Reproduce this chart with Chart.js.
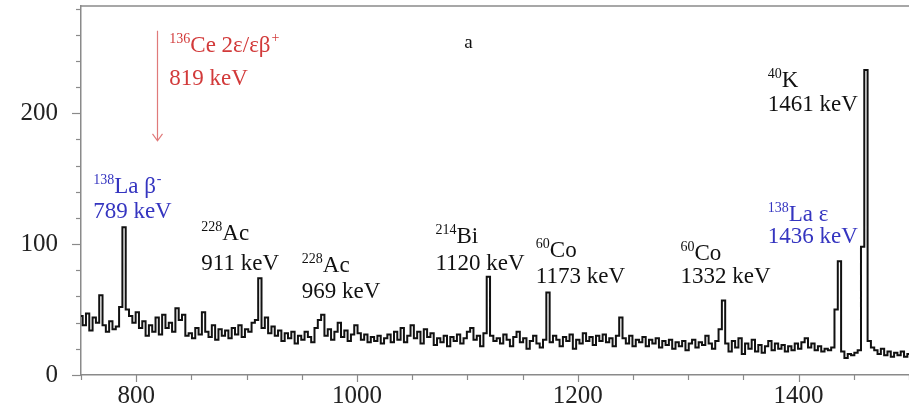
<!DOCTYPE html>
<html>
<head>
<meta charset="utf-8">
<script src="https://cdn.jsdelivr.net/npm/chart.js@4.4.0/dist/chart.umd.min.js"></script>
<style>
  html, body { margin: 0; padding: 0; background: #fff; }
  #wrap { width: 909px; height: 413px; }
</style>
</head>
<body>
<div id="wrap"><canvas id="myChart"></canvas></div>
<script>
// spectrum channels: 3 keV wide, starting at 750 keV
const binStart = 750;
const binWidth = 3;
const counts = [
  45, 38, 47, 34, 44, 40, 61, 38, 33, 41,   // 750
  35, 37, 52, 113, 50, 45, 40, 48, 36, 41,  // 780
  30, 38, 33, 44, 31, 46, 36, 40, 33, 51,   // 810
  42, 46, 30, 32, 28, 36, 31, 48, 33, 29,   // 840
  38, 27, 35, 30, 34, 28, 36, 31, 38, 29,   // 870
  35, 33, 40, 42, 74, 36, 44, 32, 37, 30,   // 900
  34, 26, 32, 28, 33, 24, 30, 27, 33, 29,   // 930
  25, 36, 42, 46, 30, 35, 27, 33, 40, 29,   // 960
  34, 26, 31, 38, 32, 27, 31, 25, 29, 26,   // 990
  30, 24, 28, 31, 25, 33, 27, 36, 25, 30,   // 1020
  38, 28, 33, 24, 35, 29, 32, 23, 28, 25,   // 1050
  30, 22, 29, 26, 31, 24, 28, 33, 36, 27,   // 1080
  30, 22, 32, 75, 30, 26, 28, 24, 31, 27,   // 1110
  22, 29, 33, 25, 28, 20, 26, 30, 24, 21,   // 1140
  27, 63, 25, 30, 27, 22, 29, 26, 31, 20,   // 1170
  27, 24, 32, 26, 29, 23, 30, 26, 31, 25,   // 1200
  28, 22, 30, 44, 28, 24, 30, 22, 27, 25,   // 1230
  29, 22, 27, 24, 28, 21, 26, 23, 27, 20,   // 1260
  25, 22, 26, 19, 24, 27, 21, 25, 23, 30,   // 1290
  24, 20, 26, 35, 57, 24, 18, 26, 21, 28,   // 1320
  16, 24, 20, 27, 18, 23, 17, 22, 26, 19,   // 1350
  24, 20, 23, 18, 22, 19, 24, 20, 25, 28,   // 1380
  21, 24, 19, 22, 18, 20, 19, 21, 50, 87,   // 1410
  18, 13, 16, 15, 17, 19, 98, 233, 26, 21,  // 1440
  19, 16, 20, 15, 18, 14, 17, 15, 18, 14,   // 1470
  16                                        // 1500
];
const xTickLabels = [800, 1000, 1200, 1400];
const yTickLabels = [0, 100, 200];

// peak annotations: keV / counts where each text line sits
const peakLabels = [
  { x: 761, y: 139, y2: 120, pre: '138', main: 'La β', post: '-', line2: '789 keV', color: '#3535c0' },
  { x: 859, y: 103, y2: 80, pre: '228', main: 'Ac', post: '', line2: '911 keV', color: '#111' },
  { x: 950, y: 79, y2: 59, pre: '228', main: 'Ac', post: '', line2: '969 keV', color: '#111' },
  { x: 1071, y: 101, y2: 80, pre: '214', main: 'Bi', post: '', line2: '1120 keV', color: '#111' },
  { x: 1162, y: 90, y2: 70, pre: '60', main: 'Co', post: '', line2: '1173 keV', color: '#111' },
  { x: 1293, y: 88, y2: 70, pre: '60', main: 'Co', post: '', line2: '1332 keV', color: '#111' },
  { x: 1372, y: 220, y2: 202, pre: '40', main: 'K', post: '', line2: '1461 keV', color: '#111' },
  { x: 1372, y: 118, y2: 101, pre: '138', main: 'La ε', post: '', line2: '1436 keV', color: '#3535c0' },
  { x: 830, y: 247, y2: 222, pre: '136', main: 'Ce 2ε/εβ', post: '+', line2: '819 keV', color: '#d23a3a' }
];
const arrow = { x: 819, from: 263, to: 179 };

const spectrum = counts.map((c, i) => ({ x: binStart + i * binWidth, y: c }));

const axisGray = '#8a8a8a';
const serif = '"Liberation Serif", "DejaVu Serif", serif';

const decorPlugin = {
  id: 'decor',
  afterDraw(chart) {
    const { ctx, chartArea: a, scales: { x, y } } = chart;
    ctx.save();
    // frame top + tick marks
    ctx.strokeStyle = axisGray;
    ctx.lineWidth = 1.5;
    ctx.beginPath();
    ctx.moveTo(a.left, a.top);
    ctx.lineTo(a.right, a.top);
    ctx.stroke();
    ctx.lineWidth = 1.2;
    for (let v = 0; v <= 280; v += 20) {
      const py = Math.round(y.getPixelForValue(v)) + 0.5;
      const len = v % 100 === 0 ? 9 : 5;
      ctx.beginPath();
      ctx.moveTo(a.left - len, py);
      ctx.lineTo(a.left, py);
      ctx.stroke();
    }
    for (let v = 750; v <= 1500; v += 50) {
      const px = Math.round(x.getPixelForValue(v)) + 0.5;
      const len = v % 200 === 0 ? 7 : 5;
      ctx.beginPath();
      ctx.moveTo(px, a.bottom);
      ctx.lineTo(px, a.bottom + len);
      ctx.stroke();
    }

    // panel letter
    ctx.fillStyle = '#111';
    ctx.font = '19px ' + serif;
    ctx.textAlign = 'center';
    ctx.textBaseline = 'alphabetic';
    ctx.fillText('a', x.getPixelForValue(1101), y.getPixelForValue(250));

    // red arrow at 819 keV
    const ax = Math.round(x.getPixelForValue(arrow.x)) + 0.5;
    const ay1 = y.getPixelForValue(arrow.from);
    const ay2 = y.getPixelForValue(arrow.to);
    ctx.strokeStyle = '#e07a7a';
    ctx.lineWidth = 1.2;
    ctx.beginPath();
    ctx.moveTo(ax, ay1);
    ctx.lineTo(ax, ay2);
    ctx.moveTo(ax - 5, ay2 - 7);
    ctx.lineTo(ax, ay2);
    ctx.lineTo(ax + 5, ay2 - 7);
    ctx.stroke();

    // peak labels
    ctx.textAlign = 'left';
    peakLabels.forEach(p => {
      let px = x.getPixelForValue(p.x);
      const py = y.getPixelForValue(p.y);
      ctx.fillStyle = p.color;
      ctx.font = '14px ' + serif;
      ctx.fillText(p.pre, px, py - 9);
      px += ctx.measureText(p.pre).width;
      ctx.font = '23px ' + serif;
      ctx.fillText(p.main, px, py);
      px += ctx.measureText(p.main).width;
      if (p.post) {
        ctx.font = '14px ' + serif;
        ctx.fillText(p.post, px + 1, py - 10);
      }
      ctx.font = '23px ' + serif;
      ctx.fillText(p.line2, x.getPixelForValue(p.x), y.getPixelForValue(p.y2));
    });
    ctx.restore();
  }
};

new Chart(document.getElementById('myChart'), {
  type: 'line',
  data: {
    datasets: [{
      data: spectrum,
      borderColor: '#111',
      borderWidth: 2,
      pointRadius: 0,
      stepped: 'middle',
      fill: false
    }]
  },
  options: {
    responsive: true,
    maintainAspectRatio: false,
    animation: false,
    layout: { padding: { top: 6, right: 0, left: 0, bottom: 0 } },
    plugins: {
      legend: { display: false },
      tooltip: { enabled: false }
    },
    scales: {
      x: {
        type: 'linear',
        min: 750,
        max: 1500,
        afterBuildTicks: s => { s.ticks = xTickLabels.map(v => ({ value: v })); },
        afterFit: s => { s.height = 38; s.paddingLeft = 0; s.paddingRight = 0; },
        grid: { display: true, drawOnChartArea: false, drawTicks: false },
        border: { display: true, color: axisGray, width: 1.5 },
        ticks: {
          autoSkip: false,
          maxRotation: 0,
          padding: 6,
          color: '#222',
          font: { family: serif, size: 25 },
          callback: v => String(v)
        }
      },
      y: {
        min: 0,
        max: 282,
        afterBuildTicks: s => { s.ticks = yTickLabels.map(v => ({ value: v })); },
        afterFit: s => { s.width = 81; s.paddingTop = 0; s.paddingBottom = 0; },
        grid: { display: true, drawOnChartArea: false, drawTicks: false },
        border: { display: true, color: axisGray, width: 1.5 },
        ticks: {
          padding: 23,
          color: '#222',
          font: { family: serif, size: 25 },
          callback: v => String(v)
        }
      }
    }
  },
  plugins: [decorPlugin]
});
</script>
</body>
</html>
